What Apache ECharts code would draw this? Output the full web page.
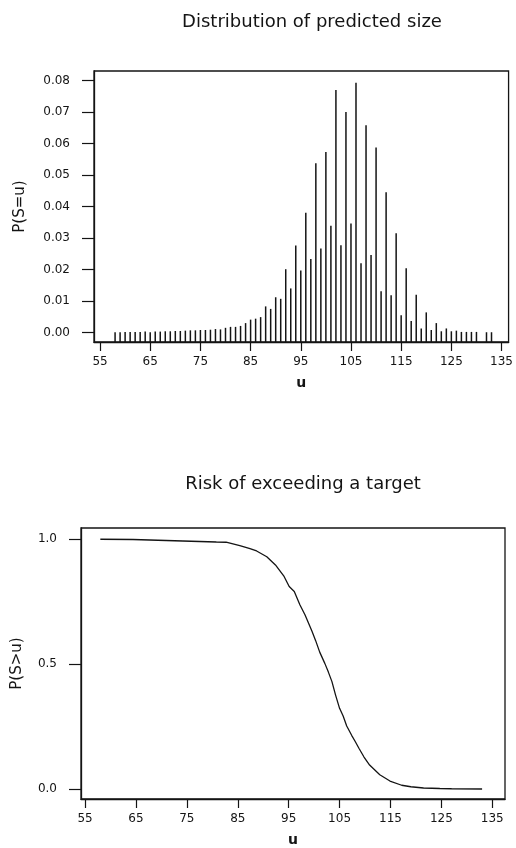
<!DOCTYPE html>
<html>
<head>
<meta charset="utf-8">
<script src="https://cdn.jsdelivr.net/npm/echarts@6/dist/echarts.min.js"></script>
<style>
  html, body { margin: 0; padding: 0; background: #fff; }
  #chart { width: 516px; height: 848px; }
</style>
</head>
<body>
<div id="chart"></div>
<script>
// predicted size u and P(S=u)
var sizeU = [58, 59, 60, 61, 62, 63, 64, 65, 66, 67, 68, 69, 70, 71, 72, 73, 74, 75, 76, 77,
  78, 79, 80, 81, 82, 83, 84, 85, 86, 87, 88, 89, 90, 91, 92, 93, 94, 95, 96, 97,
  98, 99, 100, 101, 102, 103, 104, 105, 106, 107, 108, 109, 110, 111, 112, 113, 114, 115, 116, 117,
  118, 119, 120, 121, 122, 123, 124, 125, 126, 127, 128, 129, 130, 131, 132, 133];
var sizeProb = [0.0001, 0.0001, 0.0002, 0.0002, 0.0002, 0.0002, 0.0003, 0.0001, 0.0003, 0.0003,
  0.0004, 0.0004, 0.0005, 0.0005, 0.0006, 0.0007, 0.0007, 0.0008, 0.0008, 0.0009,
  0.0011, 0.0010, 0.0015, 0.0018, 0.0018, 0.0021, 0.0030, 0.0041, 0.0044, 0.0049,
  0.0083, 0.0075, 0.0112, 0.0107, 0.0201, 0.0140, 0.0276, 0.0197, 0.0380, 0.0233,
  0.0537, 0.0267, 0.0573, 0.0339, 0.0770, 0.0277, 0.0700, 0.0346, 0.0793, 0.0220,
  0.0658, 0.0246, 0.0587, 0.0131, 0.0445, 0.0118, 0.0315, 0.0055, 0.0204, 0.0037,
  0.0120, 0.0013, 0.0064, 0.0008, 0.0030, 0.0004, 0.0013, 0.0004, 0.0006, 0.0002,
  0.0002, 0.0002, 0.0002, null, 0.0001, 0.0001];

// target u and P(S>u)
var riskU = [58, 64.4, 74.2, 80.8, 82.7, 85.4, 87.4, 88.7, 90.7, 92.4, 94.1, 95.1, 96.1, 97.2,
  98.2, 99.6, 100.3, 101.1, 102.1, 102.8, 103.5, 104.2, 105.0, 105.7, 106.4, 107.4, 108.1,
  108.8, 109.8, 110.9, 112.9, 114.9, 117.2, 119, 121.5, 124.7, 127, 133];
var riskP = [1.0, 0.999, 0.993, 0.989, 0.988, 0.974, 0.962, 0.953, 0.930, 0.897, 0.851, 0.811, 0.791, 0.738,
  0.698, 0.631, 0.594, 0.548, 0.503, 0.468, 0.430, 0.377, 0.323, 0.292, 0.252, 0.214, 0.189,
  0.163, 0.128, 0.096, 0.057, 0.032, 0.015, 0.009, 0.004, 0.002, 0.001, 0.0];

// tick labels
var uTicks = [55, 65, 75, 85, 95, 105, 115, 125, 135];
var probTicks = [0, 0.01, 0.02, 0.03, 0.04, 0.05, 0.06, 0.07, 0.08];
var riskTicks = [0, 0.5, 1.0];

var ink = '#141414';
var font = 'DejaVu Sans';

var chart = echarts.init(document.getElementById('chart'));

function xAxisFor(grid, min, max) {
  return {
    gridIndex: grid, type: 'value', min: min, max: max,
    name: 'u', nameLocation: 'middle', nameGap: 34,
    nameTextStyle: { color: ink, fontFamily: font, fontSize: 14, fontWeight: 'bold' },
    axisLine: { show: true, onZero: false, lineStyle: { color: ink, width: 1.3 } },
    axisTick: { show: true, length: 9, customValues: uTicks, lineStyle: { color: ink, width: 1.2 } },
    axisLabel: { customValues: uTicks, margin: 14, color: ink, fontFamily: font, fontSize: 12 },
    splitLine: { show: false }
  };
}

var option = {
  backgroundColor: '#fff',
  animation: false,
  title: [
    { text: 'Distribution of predicted size', left: 307, top: 8, textAlign: 'center',
      textStyle: { color: ink, fontFamily: font, fontSize: 18, fontWeight: 'normal' } },
    { text: 'Risk of exceeding a target', left: 298, top: 470, textAlign: 'center',
      textStyle: { color: ink, fontFamily: font, fontSize: 18, fontWeight: 'normal' } }
  ],
  grid: [
    { left: 94, top: 71, width: 416, height: 271, show: true, borderColor: ink, borderWidth: 1.3 },
    { left: 81, top: 528, width: 424, height: 272, show: true, borderColor: ink, borderWidth: 1.3 }
  ],
  xAxis: [xAxisFor(0, 53.8, 136.4), xAxisFor(1, 54.2, 137.5)],
  yAxis: [
    {
      gridIndex: 0, type: 'value', min: -0.003, max: 0.083,
      name: 'P(S=u)', nameLocation: 'middle', nameGap: 66, nameRotate: 90,
      nameTextStyle: { color: ink, fontFamily: font, fontSize: 15 },
      axisLine: { show: true, onZero: false, lineStyle: { color: ink, width: 1.3 } },
      axisTick: { show: true, length: 12, customValues: probTicks, lineStyle: { color: ink, width: 1.2 } },
      axisLabel: { customValues: probTicks, margin: 24, color: ink, fontFamily: font, fontSize: 12,
        formatter: function (v) { return v.toFixed(2); } },
      splitLine: { show: false }
    },
    {
      gridIndex: 1, type: 'value', min: -0.04, max: 1.045,
      name: 'P(S>u)', nameLocation: 'middle', nameGap: 56, nameRotate: 90,
      nameTextStyle: { color: ink, fontFamily: font, fontSize: 15 },
      axisLine: { show: true, onZero: false, lineStyle: { color: ink, width: 1.3 } },
      axisTick: { show: true, length: 12, customValues: riskTicks, lineStyle: { color: ink, width: 1.2 } },
      axisLabel: { customValues: riskTicks, margin: 24, color: ink, fontFamily: font, fontSize: 12,
        formatter: function (v) { return v.toFixed(1); } },
      splitLine: { show: false }
    }
  ],
  series: [
    {
      // vertical lines drawn up from the bottom of the frame
      type: 'custom', xAxisIndex: 0, yAxisIndex: 0,
      data: sizeU.map(function (u, i) { return [u, sizeProb[i]]; })
        .filter(function (d) { return d[1] != null; }),
      renderItem: function (params, api) {
        var top = api.coord([api.value(0), api.value(1)]);
        var base = params.coordSys.y + params.coordSys.height;
        return {
          type: 'line',
          shape: { x1: top[0], y1: base, x2: top[0], y2: top[1] },
          style: { stroke: ink, lineWidth: 1.5 }
        };
      }
    },
    {
      type: 'line', xAxisIndex: 1, yAxisIndex: 1,
      data: riskU.map(function (u, i) { return [u, riskP[i]]; }),
      showSymbol: false,
      lineStyle: { color: ink, width: 1.3 }
    }
  ]
};

chart.setOption(option);
</script>
</body>
</html>
